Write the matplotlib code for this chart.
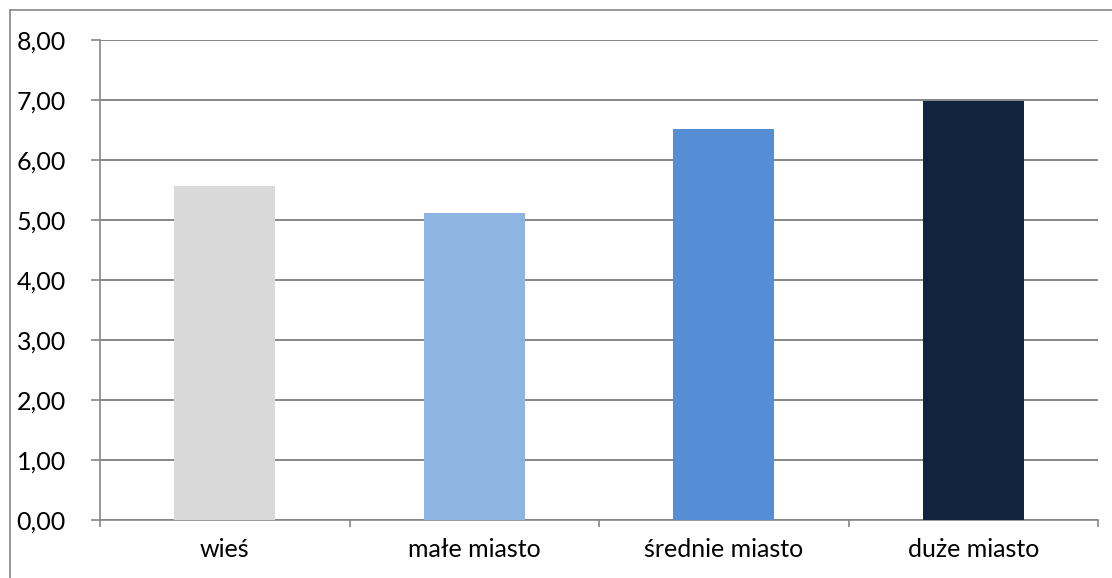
import matplotlib.pyplot as plt
from matplotlib.lines import Line2D
from matplotlib.ticker import FuncFormatter

categories = ['wieś', 'małe miasto', 'średnie miasto', 'duże miasto']
values = [5.57, 5.12, 6.52, 6.98]
colors = ['#D9D9D9', '#8EB4E3', '#558ED5', '#10243F']

W, H = 1112, 578
fig = plt.figure(figsize=(W / 100, H / 100), dpi=100)
ax = fig.add_axes([100 / W, 1 - 520 / H, 998 / W, 480 / H])

grid_col = '#868686'

x = range(len(categories))
ax.bar(x, values, width=0.405, color=colors, zorder=3)

ax.set_xlim(-0.5, len(categories) - 0.5)
ax.set_ylim(0, 8)
ax.set_yticks(range(0, 9))
ax.yaxis.set_major_formatter(FuncFormatter(lambda v, p: f'{v:.2f}'.replace('.', ',')))
ax.grid(axis='y', color=grid_col, linewidth=1.4, zorder=0)

ax.set_xticks(list(x))
ax.set_xticklabels(categories)
ax.set_xticks([i - 0.5 for i in range(len(categories) + 1)], minor=True)
ax.tick_params(axis='x', which='major', length=0, pad=13)
ax.tick_params(axis='x', which='minor', length=5, width=1.2, color=grid_col)
ax.tick_params(axis='y', length=6.5, width=1.2, color=grid_col, pad=18)
for lab in ax.get_xticklabels() + ax.get_yticklabels():
    lab.set_fontfamily('Lato')
    lab.set_fontsize(18)
    lab.set_color('#000000')

for side in ['top', 'right']:
    ax.spines[side].set_visible(False)
for side in ['left', 'bottom']:
    ax.spines[side].set_color(grid_col)
    ax.spines[side].set_linewidth(1.2)

# outer chart border (only left and top edges visible)
fig.add_artist(Line2D([9.5 / W, 9.5 / W], [0, 1 - 9.5 / H], transform=fig.transFigure, color=grid_col, linewidth=1.2))
fig.add_artist(Line2D([9.5 / W, 1], [1 - 9.5 / H, 1 - 9.5 / H], transform=fig.transFigure, color=grid_col, linewidth=1.2))

fig.savefig('out.png', dpi=100)
